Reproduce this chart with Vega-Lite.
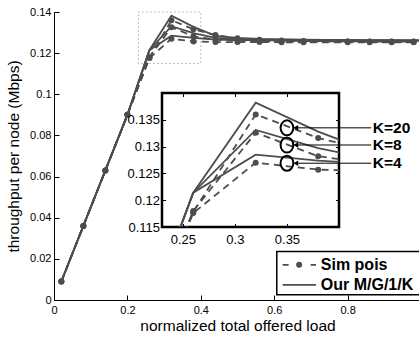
{
"$schema": "https://vega.github.io/schema/vega-lite/v6.json",
"autosize": {"type": "pad"},
"padding": {"left": 6, "top": 6, "right": 0, "bottom": 0},
"config": {
  "view": {"stroke": null},
  "font": "Liberation Sans",
  "axis": {"domainColor": "black", "tickColor": "black", "labelColor": "black", "titleColor": "black", "labelFont": "Liberation Sans", "titleFont": "Liberation Sans", "titleFontWeight": "normal", "grid": false, "labelFontSize": 11, "titleFontSize": 15.5, "domainWidth": 1, "tickWidth": 1, "labelFlush": false, "labelOverlap": false, "tickCount": 20}
},
"datasets": {
  "main": [
    {"series":"sim","K":20,"x":0.02,"y":0.009},{"series":"sim","K":20,"x":0.08,"y":0.036},{"series":"sim","K":20,"x":0.14,"y":0.063},{"series":"sim","K":20,"x":0.20,"y":0.090},{"series":"sim","K":20,"x":0.26,"y":0.1178},{"series":"sim","K":20,"x":0.32,"y":0.1360},{"series":"sim","K":20,"x":0.38,"y":0.1316},{"series":"sim","K":20,"x":0.44,"y":0.1288},{"series":"sim","K":20,"x":0.50,"y":0.1272},{"series":"sim","K":20,"x":0.56,"y":0.1265},{"series":"sim","K":20,"x":0.62,"y":0.1261},{"series":"sim","K":20,"x":0.68,"y":0.1259},{"series":"sim","K":20,"x":0.80,"y":0.1257},{"series":"sim","K":20,"x":0.86,"y":0.1257},{"series":"sim","K":20,"x":0.92,"y":0.1256},{"series":"sim","K":20,"x":0.98,"y":0.1256},
    {"series":"sim","K":8,"x":0.02,"y":0.009},{"series":"sim","K":8,"x":0.08,"y":0.036},{"series":"sim","K":8,"x":0.14,"y":0.063},{"series":"sim","K":8,"x":0.20,"y":0.090},{"series":"sim","K":8,"x":0.26,"y":0.1180},{"series":"sim","K":8,"x":0.32,"y":0.1326},{"series":"sim","K":8,"x":0.38,"y":0.1282},{"series":"sim","K":8,"x":0.44,"y":0.1266},{"series":"sim","K":8,"x":0.50,"y":0.1261},{"series":"sim","K":8,"x":0.56,"y":0.1258},{"series":"sim","K":8,"x":0.62,"y":0.1257},{"series":"sim","K":8,"x":0.68,"y":0.1256},{"series":"sim","K":8,"x":0.80,"y":0.1256},{"series":"sim","K":8,"x":0.86,"y":0.1255},{"series":"sim","K":8,"x":0.92,"y":0.1255},{"series":"sim","K":8,"x":0.98,"y":0.1255},
    {"series":"sim","K":4,"x":0.02,"y":0.009},{"series":"sim","K":4,"x":0.08,"y":0.036},{"series":"sim","K":4,"x":0.14,"y":0.063},{"series":"sim","K":4,"x":0.20,"y":0.090},{"series":"sim","K":4,"x":0.26,"y":0.1176},{"series":"sim","K":4,"x":0.32,"y":0.1270},{"series":"sim","K":4,"x":0.38,"y":0.1257},{"series":"sim","K":4,"x":0.44,"y":0.1254},{"series":"sim","K":4,"x":0.50,"y":0.1254},{"series":"sim","K":4,"x":0.56,"y":0.1254},{"series":"sim","K":4,"x":0.62,"y":0.1253},{"series":"sim","K":4,"x":0.68,"y":0.1253},{"series":"sim","K":4,"x":0.80,"y":0.1253},{"series":"sim","K":4,"x":0.86,"y":0.1253},{"series":"sim","K":4,"x":0.92,"y":0.1253},{"series":"sim","K":4,"x":0.98,"y":0.1253},
    {"series":"model","K":20,"x":0.02,"y":0.009},{"series":"model","K":20,"x":0.08,"y":0.036},{"series":"model","K":20,"x":0.14,"y":0.063},{"series":"model","K":20,"x":0.20,"y":0.090},{"series":"model","K":20,"x":0.26,"y":0.1214},{"series":"model","K":20,"x":0.32,"y":0.1382},{"series":"model","K":20,"x":0.38,"y":0.1328},{"series":"model","K":20,"x":0.44,"y":0.1284},{"series":"model","K":20,"x":0.50,"y":0.1274},{"series":"model","K":20,"x":0.56,"y":0.1269},{"series":"model","K":20,"x":0.62,"y":0.1267},{"series":"model","K":20,"x":0.68,"y":0.1265},{"series":"model","K":20,"x":0.74,"y":0.1264},{"series":"model","K":20,"x":0.80,"y":0.1264},{"series":"model","K":20,"x":0.86,"y":0.1263},{"series":"model","K":20,"x":0.92,"y":0.1263},{"series":"model","K":20,"x":0.98,"y":0.1262},{"series":"model","K":20,"x":1.0,"y":0.1262},
    {"series":"model","K":8,"x":0.02,"y":0.009},{"series":"model","K":8,"x":0.08,"y":0.036},{"series":"model","K":8,"x":0.14,"y":0.063},{"series":"model","K":8,"x":0.20,"y":0.090},{"series":"model","K":8,"x":0.26,"y":0.1214},{"series":"model","K":8,"x":0.32,"y":0.1331},{"series":"model","K":8,"x":0.38,"y":0.1297},{"series":"model","K":8,"x":0.44,"y":0.1274},{"series":"model","K":8,"x":0.50,"y":0.1269},{"series":"model","K":8,"x":0.56,"y":0.1266},{"series":"model","K":8,"x":0.62,"y":0.1265},{"series":"model","K":8,"x":0.68,"y":0.1264},{"series":"model","K":8,"x":0.74,"y":0.1263},{"series":"model","K":8,"x":0.80,"y":0.1263},{"series":"model","K":8,"x":0.86,"y":0.1262},{"series":"model","K":8,"x":0.92,"y":0.1262},{"series":"model","K":8,"x":0.98,"y":0.1262},{"series":"model","K":8,"x":1.0,"y":0.1262},
    {"series":"model","K":4,"x":0.02,"y":0.009},{"series":"model","K":4,"x":0.08,"y":0.036},{"series":"model","K":4,"x":0.14,"y":0.063},{"series":"model","K":4,"x":0.20,"y":0.090},{"series":"model","K":4,"x":0.26,"y":0.1214},{"series":"model","K":4,"x":0.32,"y":0.1285},{"series":"model","K":4,"x":0.38,"y":0.1274},{"series":"model","K":4,"x":0.44,"y":0.1266},{"series":"model","K":4,"x":0.50,"y":0.1264},{"series":"model","K":4,"x":0.56,"y":0.1263},{"series":"model","K":4,"x":0.62,"y":0.1262},{"series":"model","K":4,"x":0.68,"y":0.1262},{"series":"model","K":4,"x":0.74,"y":0.1262},{"series":"model","K":4,"x":0.80,"y":0.1261},{"series":"model","K":4,"x":0.86,"y":0.1261},{"series":"model","K":4,"x":0.92,"y":0.1261},{"series":"model","K":4,"x":0.98,"y":0.1261},{"series":"model","K":4,"x":1.0,"y":0.1261}
  ],
  "klab": [
    {"label":"K=20","y":0.1335},
    {"label":"K=8","y":0.1303},
    {"label":"K=4","y":0.1269}
  ]
},
"bounds": "flush",
"spacing": 0,
"vconcat": [
  {
    "width": 367,
    "height": 81,
    "layer": [
      {"data": {"values": [{}]},
       "mark": {"type": "rect", "fill": null, "stroke": "#808080", "strokeWidth": 1, "strokeDash": [1, 3]},
       "encoding": {
         "x": {"datum": 0.23, "type": "quantitative", "scale": {"domain": [0, 1], "nice": false, "zero": false},
               "axis": {"title": "normalized total offered load", "values": [0, 0.2, 0.4, 0.6, 0.8, 1], "format": ".1~f", "tickSize": -5, "labelPadding": 9, "titlePadding": 3, "offset": 207, "tickCount": 20}},
         "x2": {"datum": 0.40},
         "y": {"datum": 0.115, "type": "quantitative", "scale": {"domain": [0, 0.14], "nice": false, "zero": false, "range": [288, 0]},
               "axis": {"title": "throughput per node (Mbps)", "values": [0, 0.02, 0.04, 0.06, 0.08, 0.1, 0.12, 0.14], "format": ".2~f", "tickSize": -5, "labelPadding": 8, "titlePadding": 8, "tickCount": 20}},
         "y2": {"datum": 0.14}
       }},
      {"data": {"name": "main"}, "transform": [{"filter": "datum.series == 'sim'"}],
       "mark": {"type": "line", "color": "#4d4d4d", "strokeWidth": 1.8, "strokeDash": [7, 5]},
       "encoding": {
         "x": {"field": "x", "type": "quantitative", "scale": {"domain": [0, 1], "nice": false, "zero": false}},
         "y": {"field": "y", "type": "quantitative", "scale": {"domain": [0, 0.14], "nice": false, "zero": false, "range": [288, 0]}},
         "detail": {"field": "K"}
       }},
      {"data": {"name": "main"}, "transform": [{"filter": "datum.series == 'sim'"}],
       "mark": {"type": "point", "shape": "circle", "filled": true, "color": "#4d4d4d", "size": 36, "opacity": 1},
       "encoding": {
         "x": {"field": "x", "type": "quantitative", "scale": {"domain": [0, 1], "nice": false, "zero": false}},
         "y": {"field": "y", "type": "quantitative", "scale": {"domain": [0, 0.14], "nice": false, "zero": false, "range": [288, 0]}}
       }},
      {"data": {"name": "main"}, "transform": [{"filter": "datum.series == 'model'"}],
       "mark": {"type": "line", "color": "#4d4d4d", "strokeWidth": 1.8},
       "encoding": {
         "x": {"field": "x", "type": "quantitative", "scale": {"domain": [0, 1], "nice": false, "zero": false}},
         "y": {"field": "y", "type": "quantitative", "scale": {"domain": [0, 0.14], "nice": false, "zero": false, "range": [288, 0]}},
         "detail": {"field": "K"}
       }},
      {"data": {"values": [{}]},
       "mark": {"type": "rect", "fill": "white", "stroke": "black", "strokeWidth": 1.5},
       "encoding": {
         "x": {"datum": 0.607, "type": "quantitative", "scale": {"domain": [0, 1], "nice": false, "zero": false}},
         "x2": {"datum": 0.997},
         "y": {"datum": 0.0025, "type": "quantitative", "scale": {"domain": [0, 0.14], "nice": false, "zero": false, "range": [288, 0]}},
         "y2": {"datum": 0.0236}
       }},
      {"data": {"values": [{}]},
       "mark": {"type": "rule", "color": "#4d4d4d", "strokeWidth": 1.8, "strokeDash": [6, 22]},
       "encoding": {
         "x": {"datum": 0.623, "type": "quantitative", "scale": {"domain": [0, 1], "nice": false, "zero": false}},
         "x2": {"datum": 0.714},
         "y": {"datum": 0.0171, "type": "quantitative", "scale": {"domain": [0, 0.14], "nice": false, "zero": false, "range": [288, 0]}}
       }},
      {"data": {"values": [{}]},
       "mark": {"type": "point", "shape": "circle", "filled": true, "color": "#4d4d4d", "size": 36, "opacity": 1},
       "encoding": {
         "x": {"datum": 0.668, "type": "quantitative", "scale": {"domain": [0, 1], "nice": false, "zero": false}},
         "y": {"datum": 0.0171, "type": "quantitative", "scale": {"domain": [0, 0.14], "nice": false, "zero": false, "range": [288, 0]}}
       }},
      {"data": {"values": [{}]},
       "mark": {"type": "rule", "color": "#4d4d4d", "strokeWidth": 1.8},
       "encoding": {
         "x": {"datum": 0.623, "type": "quantitative", "scale": {"domain": [0, 1], "nice": false, "zero": false}},
         "x2": {"datum": 0.714},
         "y": {"datum": 0.0074, "type": "quantitative", "scale": {"domain": [0, 0.14], "nice": false, "zero": false, "range": [288, 0]}}
       }},
      {"data": {"values": [{"label": "Sim pois"}]},
       "mark": {"type": "text", "align": "left", "baseline": "middle", "fontSize": 16, "fontWeight": "bold", "font": "Liberation Sans", "color": "black"},
       "encoding": {
         "x": {"datum": 0.727, "type": "quantitative", "scale": {"domain": [0, 1], "nice": false, "zero": false}},
         "y": {"datum": 0.0171, "type": "quantitative", "scale": {"domain": [0, 0.14], "nice": false, "zero": false, "range": [288, 0]}},
         "text": {"field": "label"}
       }},
      {"data": {"values": [{"label": "Our M/G/1/K"}]},
       "mark": {"type": "text", "align": "left", "baseline": "middle", "fontSize": 16, "fontWeight": "bold", "font": "Liberation Sans", "color": "black"},
       "encoding": {
         "x": {"datum": 0.727, "type": "quantitative", "scale": {"domain": [0, 1], "nice": false, "zero": false}},
         "y": {"datum": 0.0074, "type": "quantitative", "scale": {"domain": [0, 0.14], "nice": false, "zero": false, "range": [288, 0]}},
         "text": {"field": "label"}
       }}
    ]
  },
  {
    "bounds": "flush",
    "spacing": 107,
    "hconcat": [
      {"width": 1, "height": 1, "data": {"values": [{}]}, "mark": {"type": "point", "opacity": 0}, "encoding": {}},
      {
        "width": 177,
        "height": 134,
        "view": {"fill": "white", "stroke": "black", "strokeWidth": 2.5},
        "resolve": {"axis": {"x": "independent", "y": "independent"}},
        "layer": [
          {"data": {"name": "main"},
           "layer": [
             {"transform": [{"filter": "datum.series == 'sim'"}],
              "mark": {"type": "line", "color": "#4d4d4d", "strokeWidth": 1.8, "strokeDash": [7, 5], "clip": true},
              "encoding": {
                "x": {"field": "x", "type": "quantitative", "scale": {"domain": [0.23, 0.40], "nice": false, "zero": false},
                      "axis": {"orient": "bottom", "title": null, "values": [0.25, 0.3, 0.35], "format": ".2~f", "tickSize": -3.5, "labelPadding": 9.5, "labelFontSize": 13, "domain": false, "tickCount": 20}},
                "y": {"field": "y", "type": "quantitative", "scale": {"domain": [0.115, 0.14], "nice": false, "zero": false},
                      "axis": {"orient": "left", "title": null, "values": [0.115, 0.12, 0.125, 0.13, 0.135], "format": ".3~f", "tickSize": -3.5, "labelPadding": 6, "labelFontSize": 13, "domain": false, "tickCount": 20}},
                "detail": {"field": "K"}
              }},
             {"transform": [{"filter": "datum.series == 'sim'"}],
              "mark": {"type": "point", "shape": "circle", "filled": true, "color": "#4d4d4d", "size": 36, "opacity": 1, "clip": true},
              "encoding": {
                "x": {"field": "x", "type": "quantitative", "scale": {"domain": [0.23, 0.40], "nice": false, "zero": false}},
                "y": {"field": "y", "type": "quantitative", "scale": {"domain": [0.115, 0.14], "nice": false, "zero": false}}
              }},
             {"transform": [{"filter": "datum.series == 'model'"}],
              "mark": {"type": "line", "color": "#4d4d4d", "strokeWidth": 1.8, "clip": true},
              "encoding": {
                "x": {"field": "x", "type": "quantitative", "scale": {"domain": [0.23, 0.40], "nice": false, "zero": false}},
                "y": {"field": "y", "type": "quantitative", "scale": {"domain": [0.115, 0.14], "nice": false, "zero": false}},
                "detail": {"field": "K"}
              }}
           ]},
          {"data": {"name": "klab"},
           "layer": [
             {"mark": {"type": "point", "shape": "M0,-1A0.85,1 0 1,1 0,1A0.85,1 0 1,1 0,-1Z", "size": 225, "filled": false, "color": "black", "strokeWidth": 2, "opacity": 1},
              "encoding": {
                "x": {"datum": 0.35, "type": "quantitative", "scale": {"domain": [0.23, 0.40], "nice": false, "zero": false},
                      "axis": {"orient": "top", "title": null, "values": [0.25, 0.3, 0.35], "labels": false, "tickSize": -3.5, "domain": false, "tickCount": 20}},
                "y": {"field": "y", "type": "quantitative", "scale": {"domain": [0.115, 0.14], "nice": false, "zero": false},
                      "axis": {"orient": "right", "title": null, "values": [0.12, 0.125, 0.13, 0.135], "labels": false, "tickSize": -3.5, "domain": false, "tickCount": 20}}
              }},
             {"mark": {"type": "rule", "color": "black", "strokeWidth": 1},
              "encoding": {
                "x": {"datum": 0.3575, "type": "quantitative", "scale": {"domain": [0.23, 0.40], "nice": false, "zero": false}},
                "x2": {"datum": 0.431},
                "y": {"field": "y", "type": "quantitative", "scale": {"domain": [0.115, 0.14], "nice": false, "zero": false}}
              }},
             {"mark": {"type": "point", "shape": "triangle-left", "size": 30, "filled": true, "color": "black", "opacity": 1},
              "encoding": {
                "x": {"datum": 0.3585, "type": "quantitative", "scale": {"domain": [0.23, 0.40], "nice": false, "zero": false}},
                "y": {"field": "y", "type": "quantitative", "scale": {"domain": [0.115, 0.14], "nice": false, "zero": false}}
              }},
             {"mark": {"type": "text", "align": "left", "baseline": "middle", "fontSize": 15.5, "fontWeight": "bold", "font": "Liberation Sans", "color": "black"},
              "encoding": {
                "x": {"datum": 0.4325, "type": "quantitative", "scale": {"domain": [0.23, 0.40], "nice": false, "zero": false}},
                "y": {"field": "y", "type": "quantitative", "scale": {"domain": [0.115, 0.14], "nice": false, "zero": false}},
                "text": {"field": "label"}
              }}
           ]}
        ]
      }
    ]
  }
]
}
